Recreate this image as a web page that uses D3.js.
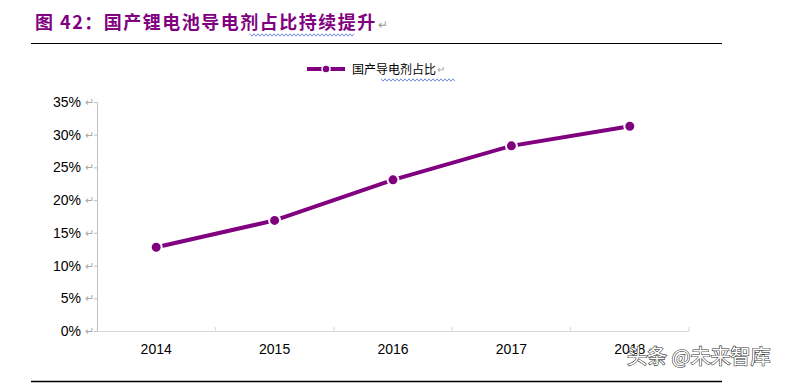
<!DOCTYPE html>
<html>
<head>
<meta charset="utf-8">
<script src="https://cdn.jsdelivr.net/npm/d3@7"></script>
<style>
  body { margin: 0; background: #fff; }
</style>
</head>
<body>
<div id="chart"></div>
<script>
// data
var years = ["2014", "2015", "2016", "2017", "2018"];
var share = [12.8, 16.9, 23.1, 28.3, 31.3];
var yTicks = [0, 5, 10, 15, 20, 25, 30, 35];
var seriesName = "国产导电剂占比";
var titleText = "图 42：国产锂电池导电剂占比持续提升";

var W = 785, H = 384;
var purple = "#800080";
var margin = { top: 102, right: 96, bottom: 53, left: 97 },
  width = W - margin.left - margin.right,
  height = H - margin.top - margin.bottom;

var svg = d3.select("#chart")
  .append("svg")
  .attr("width", W)
  .attr("height", H)
  .style("font-family", "'Liberation Sans', Arial, sans-serif");

// title + rules
var title = svg.append("text")
  .attr("x", 35)
  .attr("y", 29)
  .attr("fill", purple)
  .style("font-family", "'Noto Sans CJK SC', sans-serif")
  .style("font-weight", "bold")
  .style("font-size", "18px")
  .style("letter-spacing", "1.5px")
  .text(titleText);
var tEnd = 35 + title.node().getComputedTextLength();
svg.append("text")
  .attr("x", tEnd + 1)
  .attr("y", 29)
  .attr("fill", "#999")
  .style("font-size", "12px")
  .text("↵");

svg.append("line")
  .attr("x1", 31).attr("x2", 722)
  .attr("y1", 43.5).attr("y2", 43.5)
  .attr("stroke", "#000").attr("stroke-width", 1);
svg.append("line")
  .attr("x1", 31).attr("x2", 722)
  .attr("y1", 381.5).attr("y2", 381.5)
  .attr("stroke", "#000").attr("stroke-width", 1.5);

// spell-check squiggles
function squiggle(x0, x1, y) {
  var pts = [];
  for (var x = x0, i = 0; x <= x1; x += 2, i++) pts.push([x, y + (i % 2 ? 1.2 : -1.2)]);
  svg.append("path")
    .attr("d", d3.line()(pts))
    .attr("fill", "none")
    .attr("stroke", "#4a6fd8")
    .attr("stroke-width", 0.8);
}
squiggle(250, 354, 35);
squiggle(381, 455, 80);

var g = svg.append("g")
  .attr("transform", "translate(" + margin.left + "," + margin.top + ")");

var x = d3.scaleBand().domain(years).range([0, width]);
var y = d3.scaleLinear().domain([0, 35]).range([height, 0]);

// y axis
var yAxis = g.append("g")
  .call(d3.axisLeft(y).tickValues(yTicks).tickSize(3).tickPadding(13)
    .tickFormat(function (d) { return d + "%"; }));
yAxis.select(".domain").attr("stroke", "#bfbfbf");
yAxis.selectAll(".tick line").attr("stroke", "#bfbfbf");
yAxis.selectAll(".tick text")
  .attr("fill", "#000")
  .style("font-size", "14px")
  .style("font-family", "'Liberation Sans', Arial, sans-serif");
yAxis.selectAll(".tick")
  .append("text")
  .attr("x", -3)
  .attr("dy", "0.32em")
  .attr("text-anchor", "end")
  .attr("fill", "#aaa")
  .style("font-size", "11px")
  .text("↵");

// x axis (ticks pointing inward)
var xAxis = g.append("g")
  .attr("transform", "translate(0," + height + ")")
  .call(d3.axisBottom(x).tickSize(0).tickPadding(13));
xAxis.select(".domain").attr("stroke", "#d9d9d9");
xAxis.selectAll(".tick text")
  .attr("fill", "#000")
  .style("font-size", "14px")
  .style("font-family", "'Liberation Sans', Arial, sans-serif");
g.selectAll(".xtick")
  .data(years.slice(1).concat(["end"]))
  .enter()
  .append("line")
  .attr("x1", function (d, i) { return x.step() * (i + 1); })
  .attr("x2", function (d, i) { return x.step() * (i + 1); })
  .attr("y1", height - 4)
  .attr("y2", height)
  .attr("stroke", "#d9d9d9");
g.append("text")
  .attr("x", x("2018") + x.bandwidth() / 2 + 18)
  .attr("y", height + 22)
  .attr("fill", "#aaa")
  .style("font-size", "10px")
  .text("↵");

// line + markers
var pts = years.map(function (d, i) { return { year: d, v: share[i] }; });
g.append("path")
  .datum(pts)
  .attr("fill", "none")
  .attr("stroke", purple)
  .attr("stroke-width", 4)
  .attr("d", d3.line()
    .x(function (d) { return x(d.year) + x.bandwidth() / 2; })
    .y(function (d) { return y(d.v); }));
g.selectAll(".dot")
  .data(pts)
  .enter()
  .append("circle")
  .attr("cx", function (d) { return x(d.year) + x.bandwidth() / 2; })
  .attr("cy", function (d) { return y(d.v); })
  .attr("r", 5.5)
  .attr("fill", purple)
  .attr("stroke", "#fff")
  .attr("stroke-width", 2);

// legend
var leg = svg.append("g").attr("transform", "translate(307,69)");
leg.append("line")
  .attr("x1", 0).attr("x2", 38)
  .attr("stroke", purple).attr("stroke-width", 4);
leg.append("circle")
  .attr("cx", 19).attr("r", 4)
  .attr("fill", purple).attr("stroke", "#fff").attr("stroke-width", 1.5);
leg.append("text")
  .attr("x", 45)
  .attr("y", 4.5)
  .style("font-family", "'Noto Sans CJK SC', sans-serif")
  .style("font-size", "12px")
  .attr("fill", "#000")
  .text(seriesName);
leg.append("text")
  .attr("x", 130)
  .attr("y", 4)
  .attr("fill", "#aaa")
  .style("font-size", "10px")
  .text("↵");

// watermark
svg.append("text")
  .attr("x", 627)
  .attr("y", 364)
  .attr("fill", "#fff")
  .attr("stroke", "#333")
  .attr("stroke-width", 1.2)
  .attr("paint-order", "stroke")
  .style("font-family", "'Noto Sans CJK SC', sans-serif")
  .style("font-size", "20px")
  .text("头条 @未来智库");
</script>
</body>
</html>
